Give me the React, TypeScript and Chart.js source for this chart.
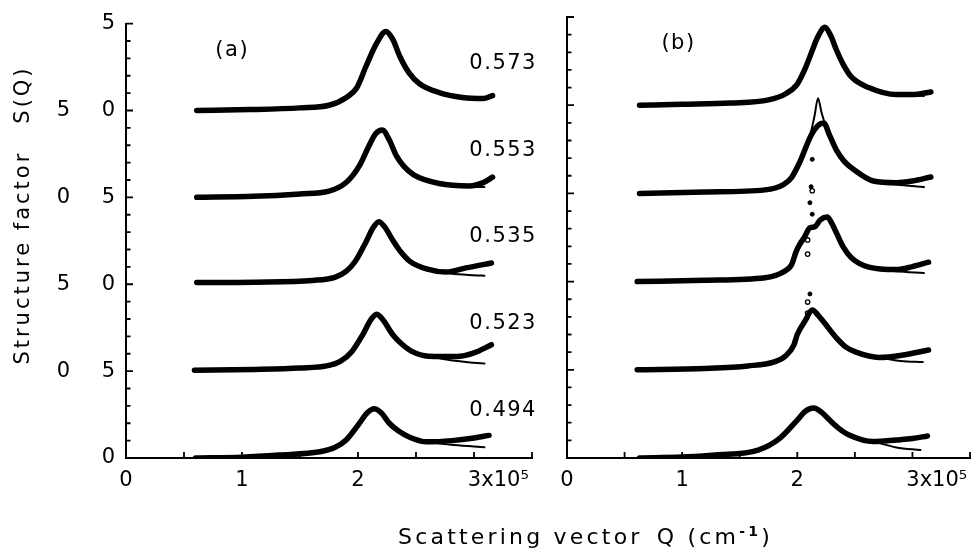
import React, { useEffect, useRef } from "react";
import { Chart, registerables } from "chart.js";

Chart.register(...registerables);

type Pt = [number, number];

const FONT = '"DejaVu Sans", sans-serif';

// Labels
const DENSITY_LABELS = ["0.494", "0.523", "0.535", "0.553", "0.573"];
const PANEL_LABELS = ["(a)", "(b)"];
const X_TICK_LABELS: Record<string, string> = {
  "0": "0",
  "1": "1",
  "2": "2",
  "3": "\u2002\u2002\u2002\u2002 3x10\u2075",
};
const Y_RIGHT_LABELS = ["0", "5", "0", "5", "0", "5"];
const Y_LEFT_LABELS = ["", "0", "5", "0", "5", ""];
const CURVE_OFFSET = 5; // vertical shift between successive curves

// ---------- Panel (a): measured S(Q) (thick) and fits (thin tails) ----------
const a494: Pt[] = [[0.6, 0.0], [1.0, 0.05], [1.32, 0.17], [1.67, 0.36], [1.8, 0.6], [1.9, 1.05], [2.01, 1.98], [2.08, 2.6], [2.14, 2.83], [2.2, 2.6], [2.27, 2.0], [2.35, 1.55], [2.45, 1.18], [2.59, 0.93], [2.81, 1.0], [3.0, 1.15], [3.13, 1.3]];
const a523: Pt[] = [[0.59, 0.05], [1.1, 0.1], [1.5, 0.18], [1.73, 0.3], [1.85, 0.58], [1.95, 1.15], [2.04, 2.09], [2.11, 2.95], [2.16, 3.28], [2.21, 3.0], [2.3, 2.09], [2.37, 1.6], [2.46, 1.15], [2.61, 0.86], [2.85, 0.84], [3.0, 1.05], [3.15, 1.52]];
const a535: Pt[] = [[0.61, 0.1], [1.1, 0.12], [1.61, 0.22], [1.8, 0.4], [1.9, 0.75], [1.98, 1.35], [2.07, 2.45], [2.13, 3.25], [2.18, 3.6], [2.23, 3.3], [2.3, 2.53], [2.37, 1.85], [2.45, 1.3], [2.59, 0.88], [2.76, 0.7], [2.93, 0.94], [3.15, 1.22]];
const a553: Pt[] = [[0.61, 0.0], [1.1, 0.06], [1.5, 0.2], [1.75, 0.36], [1.9, 0.87], [2.01, 1.8], [2.09, 2.9], [2.15, 3.65], [2.21, 3.88], [2.27, 3.3], [2.33, 2.4], [2.4, 1.75], [2.48, 1.3], [2.7, 0.8], [2.96, 0.66], [3.08, 0.85], [3.16, 1.16]];
const a573: Pt[] = [[0.61, 0.0], [1.07, 0.05], [1.5, 0.15], [1.75, 0.3], [1.9, 0.75], [1.99, 1.31], [2.07, 2.56], [2.16, 3.86], [2.24, 4.55], [2.3, 4.09], [2.36, 3.12], [2.44, 2.16], [2.53, 1.54], [2.7, 1.03], [2.9, 0.75], [3.08, 0.69], [3.16, 0.86]];

const a494Fit: Pt[] = [[2.59, 0.93], [2.8, 0.76], [3.0, 0.66], [3.09, 0.62]];
const a523Fit: Pt[] = [[2.61, 0.86], [2.8, 0.62], [3.0, 0.48], [3.09, 0.44]];
const a535Fit: Pt[] = [[2.59, 0.88], [2.8, 0.62], [3.0, 0.52], [3.09, 0.49]];
const a553Fit: Pt[] = [[2.7, 0.8], [2.85, 0.66], [3.0, 0.6], [3.09, 0.59]];
const a573Fit: Pt[] = [[2.9, 0.75], [3.0, 0.66], [3.09, 0.63]];

// ---------- Panel (b) ----------
const b494: Pt[] = [[0.63, 0.0], [1.0, 0.05], [1.29, 0.17], [1.66, 0.45], [1.85, 1.13], [2.0, 2.15], [2.07, 2.65], [2.14, 2.83], [2.21, 2.6], [2.28, 2.15], [2.36, 1.68], [2.45, 1.3], [2.66, 0.93], [2.86, 1.02], [3.0, 1.1], [3.13, 1.25]];
const b523: Pt[] = [[0.61, 0.0], [1.2, 0.08], [1.57, 0.22], [1.8, 0.45], [1.9, 0.8], [1.97, 1.4], [2.0, 2.0], [2.07, 2.8], [2.13, 3.39], [2.18, 3.1], [2.23, 2.71], [2.34, 1.81], [2.42, 1.3], [2.51, 1.0], [2.71, 0.7], [2.92, 0.84], [3.14, 1.12]];
const b535: Pt[] = [[0.61, 0.0], [1.2, 0.08], [1.72, 0.22], [1.88, 0.55], [1.95, 0.95], [1.99, 1.7], [2.02, 2.1], [2.06, 2.5], [2.11, 3.05], [2.15, 3.1], [2.2, 3.5], [2.26, 3.66], [2.3, 3.3], [2.34, 2.76], [2.4, 1.95], [2.47, 1.35], [2.62, 0.82], [2.86, 0.68], [3.0, 0.85], [3.14, 1.1]];
const b553: Pt[] = [[0.63, 0.0], [1.2, 0.08], [1.72, 0.2], [1.88, 0.5], [1.95, 0.9], [2.02, 1.75], [2.12, 3.3], [2.18, 3.85], [2.23, 3.99], [2.28, 3.3], [2.34, 2.45], [2.41, 1.8], [2.49, 1.35], [2.66, 0.7], [2.86, 0.6], [3.0, 0.7], [3.16, 0.93]];
const b573: Pt[] = [[0.63, 0.0], [1.0, 0.05], [1.42, 0.12], [1.75, 0.3], [1.9, 0.65], [2.0, 1.2], [2.07, 2.1], [2.13, 3.1], [2.18, 3.9], [2.24, 4.42], [2.29, 3.95], [2.34, 3.13], [2.4, 2.3], [2.47, 1.6], [2.62, 1.0], [2.86, 0.6], [3.0, 0.6], [3.16, 0.75]];

const b494Fit: Pt[] = [[2.66, 0.93], [2.86, 0.6], [3.07, 0.45]];
const b523Fit: Pt[] = [[2.71, 0.7], [2.9, 0.5], [3.09, 0.44]];
const b535Fit: Pt[] = [[2.62, 0.82], [2.86, 0.58], [3.1, 0.49]];
const b553Fit: Pt[] = [[1.95, 0.9], [2.02, 1.75], [2.1, 3.0], [2.15, 4.4], [2.18, 5.4], [2.21, 4.6], [2.24, 3.95]];
const b553FitTail: Pt[] = [[2.66, 0.7], [2.86, 0.5], [3.1, 0.36]];
const b573Fit: Pt[] = [[2.86, 0.6], [3.0, 0.55], [3.1, 0.52]];

// isolated Bragg-like points in panel (b) (absolute plot units)
const braggFilled: Pt[] = [[2.13, 16.93], [2.12, 15.38], [2.11, 14.47], [2.13, 13.82], [2.11, 9.3]];
const braggOpen: Pt[] = [[2.13, 15.15], [2.09, 12.36], [2.09, 11.56], [2.09, 8.84], [2.09, 8.22]];

// label anchors (data units)
const PANEL_LABEL_AT: Pt[] = [[0.77, 23.45], [0.82, 23.5]];
const DENSITY_LABEL_Q = 2.96;
const DENSITY_LABEL_RISE = 2.72;

const shift = (pts: Pt[], dy: number) => pts.map(([x, y]) => ({ x, y: y + dy }));

function buildDatasets(curves: Pt[][], fits: Pt[][][], extra: any[]) {
  const ds: any[] = [];
  curves.forEach((c, i) => {
    ds.push({
      data: shift(c, i * CURVE_OFFSET),
      borderColor: "#000",
      borderWidth: 5.5,
      pointRadius: 0,
      cubicInterpolationMode: "monotone",
      borderCapStyle: "round",
      borderJoinStyle: "round",
      fill: false,
    });
    fits[i].forEach((f) =>
      ds.push({
        data: shift(f, i * CURVE_OFFSET),
        borderColor: "#000",
        borderWidth: 2,
        pointRadius: 0,
        cubicInterpolationMode: "monotone",
        borderCapStyle: "round",
        fill: false,
      })
    );
  });
  return ds.concat(extra);
}

const decorPlugin = {
  id: "decor",
  afterDraw(chart: any) {
    const opts = chart.options.plugins.decor || {};
    const { ctx, chartArea } = chart;
    const xs = chart.scales.x;
    const ys = chart.scales.y;
    ctx.save();
    ctx.strokeStyle = "#000";
    ctx.lineWidth = 1.8;
    ctx.beginPath();
    for (let v = 0; v <= 25; v++) {
      const py = ys.getPixelForValue(v);
      const len = v % 5 === 0 ? 7 : 4.5;
      ctx.moveTo(chartArea.left, py);
      ctx.lineTo(chartArea.left + len, py);
    }
    for (let q = 0; q <= 3.5001; q += 0.5) {
      const px = xs.getPixelForValue(q);
      ctx.moveTo(px, chartArea.bottom);
      ctx.lineTo(px, chartArea.bottom - 6);
    }
    ctx.stroke();

    ctx.fillStyle = "#000";
    ctx.font = `21px ${FONT}`;
    ctx.textBaseline = "middle";
    ctx.textAlign = "left";
    try { (ctx as any).letterSpacing = "1.5px"; } catch (e) {}
    if (opts.panelLabel) {
      ctx.fillText(opts.panelLabel, xs.getPixelForValue(opts.panelAt[0]), ys.getPixelForValue(opts.panelAt[1]));
    }
    if (opts.showDensity) {
      DENSITY_LABELS.forEach((t, i) => {
        ctx.fillText(t, xs.getPixelForValue(DENSITY_LABEL_Q), ys.getPixelForValue(i * CURVE_OFFSET + DENSITY_LABEL_RISE));
      });
    }
    try { (ctx as any).letterSpacing = "0px"; } catch (e) {}
    ctx.restore();
  },
};

function Panel(props: {
  datasets: any[];
  width: number;
  left: number;
  yWidth: number;
  padRight: number;
  showYLabels: boolean;
  panelLabel: string;
  panelAt: Pt;
  showDensity: boolean;
}) {
  const ref = useRef<HTMLCanvasElement>(null);
  useEffect(() => {
    if (!ref.current) return;
    const chart = new Chart(ref.current, {
      type: "line",
      data: { datasets: props.datasets },
      options: {
        animation: false,
        responsive: false,
        maintainAspectRatio: false,
        layout: { padding: { top: 17, right: props.padRight, bottom: 56, left: 0 } },
        plugins: {
          legend: { display: false },
          tooltip: { enabled: false },
          decor: { panelLabel: props.panelLabel, panelAt: props.panelAt, showDensity: props.showDensity },
        } as any,
        scales: {
          x: {
            type: "linear",
            min: 0,
            max: 3.5,
            grid: { display: false, drawTicks: false },
            border: { display: true, color: "#000", width: 2 },
            ticks: {
              stepSize: 0.5,
              autoSkip: false,
              maxRotation: 0,
              minRotation: 0,
              padding: 10,
              color: "#000",
              font: { family: FONT, size: 21 },
              callback: (v: any) => X_TICK_LABELS[String(v)] ?? "",
            },
            afterFit: (s: any) => { s.height = 40; },
          },
          y: {
            type: "linear",
            min: 0,
            max: 25,
            grid: { display: false, drawTicks: false },
            border: { display: true, color: "#000", width: 2 },
            ticks: {
              display: props.showYLabels,
              stepSize: 1,
              autoSkip: false,
              padding: 11,
              color: "#000",
              font: { family: FONT, size: 21 },
              callback: (v: any) => {
                const n = Number(v);
                if (n % 5 !== 0) return "";
                const k = n / 5;
                const l = Y_LEFT_LABELS[k];
                const r = Y_RIGHT_LABELS[k];
                return l ? l + "\u2002\u2002\u2002" + r : r;
              },
            },
            afterFit: (s: any) => { s.width = props.yWidth; },
          },
        },
      },
      plugins: [decorPlugin],
    } as any);
    return () => chart.destroy();
  }, []);
  return (
    <canvas
      ref={ref}
      width={props.width}
      height={554}
      style={{ position: "absolute", left: props.left, top: 0, width: props.width, height: 554 }}
    />
  );
}

export default function App() {
  const dsA = buildDatasets(
    [a494, a523, a535, a553, a573],
    [[a494Fit], [a523Fit], [a535Fit], [a553Fit], [a573Fit]],
    []
  );
  const dsB = buildDatasets(
    [b494, b523, b535, b553, b573],
    [[b494Fit], [b523Fit], [b535Fit], [b553Fit, b553FitTail], [b573Fit]],
    [
      {
        type: "scatter",
        data: braggFilled.map(([x, y]) => ({ x, y })),
        pointRadius: 2,
        pointBackgroundColor: "#000",
        pointBorderColor: "#000",
        showLine: false,
      },
      {
        type: "scatter",
        data: braggOpen.map(([x, y]) => ({ x, y })),
        pointRadius: 2.2,
        pointBorderWidth: 1.3,
        pointBackgroundColor: "#fff",
        pointBorderColor: "#000",
        showLine: false,
      },
    ]
  );
  return (
    <div style={{ position: "fixed", left: 0, top: 0, width: 980, height: 554, background: "#fff", overflow: "hidden" }}>
      <Panel datasets={dsA} width={545} left={0} yWidth={126} padRight={13} showYLabels={true} panelLabel={PANEL_LABELS[0]} panelAt={PANEL_LABEL_AT[0]} showDensity={true} />
      <Panel datasets={dsB} width={435} left={545} yWidth={22} padRight={5} showYLabels={false} panelLabel={PANEL_LABELS[1]} panelAt={PANEL_LABEL_AT[1]} showDensity={false} />
      <div
        style={{
          position: "absolute",
          left: 398,
          top: 524,
          font: `22px ${FONT}`,
          letterSpacing: "3.2px",
          whiteSpace: "nowrap",
          lineHeight: "26px",
          color: "#000",
        }}
      >
        Scattering vector{"\u2002"}Q (cm<sup style={{ fontWeight: "bold", fontSize: 14, lineHeight: 0 }}>-1</sup>)
      </div>
      <div
        style={{
          position: "absolute",
          left: 22 - 170,
          top: 215 - 12,
          width: 340,
          height: 24,
          textAlign: "center",
          transform: "rotate(-90deg)",
          transformOrigin: "50% 50%",
          font: `21px ${FONT}`,
          letterSpacing: "3px",
          whiteSpace: "nowrap",
          lineHeight: "24px",
          color: "#000",
        }}
      >
        Structure factor{"\u2002\u2002"}S(Q)
      </div>
    </div>
  );
}
